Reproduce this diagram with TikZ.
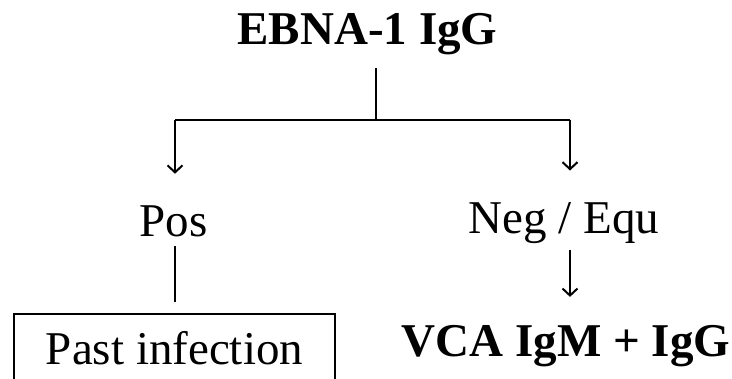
\documentclass[tikz,border=0pt]{standalone}
\usepackage{fontspec}
\setmainfont{Liberation Serif}
\usetikzlibrary{arrows.meta}
\begin{document}
\begin{tikzpicture}[x=1pt,y=-1pt,line width=2pt,
  lbl/.style={inner sep=0pt,anchor=base,font=\fontsize{47}{52}\selectfont},
  blbl/.style={lbl,font=\fontsize{47}{52}\selectfont\bfseries},
  arr/.style={-{Straight Barb[length=7pt,width=15pt,line width=2pt]}}]
\useasboundingbox (0,0) rectangle (732,379);
\clip (0,0) rectangle (732,379);
\node[blbl] (ebna) at (367.5,45) {EBNA-1 IgG};
\node[lbl] (pos) at (173.5,237) {Pos};
\node[lbl] (neg) at (564,234) {Neg / Equ};
\node[blbl] (vca) at (566,357) {VCA IgM + IgG};
\node[draw,inner sep=0pt,anchor=north,minimum width=321pt,text height=51pt,text depth=30pt,
      font=\fontsize{47}{52}\selectfont] (past) at (174.5,313) {Past infection};
\coordinate (j) at (376,120);
\coordinate (lj) at (175,120);
\coordinate (rj) at (570,120);
\draw ([yshift=-12pt]ebna.south -| j) -- (j);
\draw (lj) -- (rj);
\draw[arr] (lj) -- ([yshift=31.5pt]pos.north -| lj);
\draw[arr] (rj) -- ([yshift=31.5pt]neg.north -| rj);
\draw[shorten <=8pt,shorten >=11pt] (pos.south -| lj) -- (past.north -| lj);
\draw[arr,shorten <=5pt,shorten >=28pt] (neg.south -| rj) -- (vca.north -| rj);
\end{tikzpicture}
\end{document}
